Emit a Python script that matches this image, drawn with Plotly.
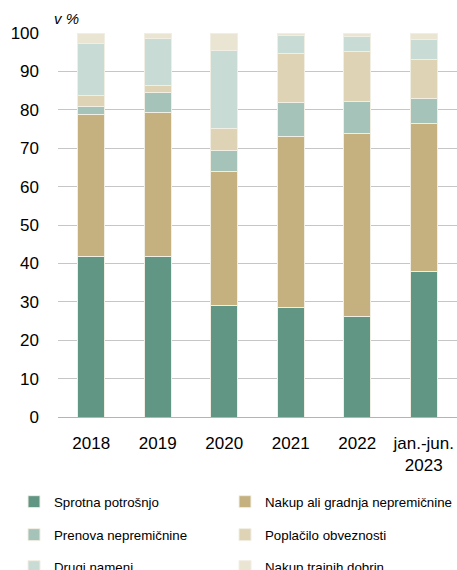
import plotly.graph_objects as go

categories = ["2018", "2019", "2020", "2021", "2022", "jan.-jun.<br>2023"]

sprotna = [41.9, 41.7, 29.1, 28.4, 26.1, 37.8]
nakup_gradnja = [37.0, 37.7, 34.8, 44.6, 47.6, 38.6]
prenova = [2.0, 5.1, 5.5, 9.0, 8.5, 6.6]
poplacilo = [2.9, 1.7, 5.8, 12.6, 13.0, 10.2]
drugi = [13.4, 12.3, 20.3, 4.8, 3.9, 5.2]
trajnih = [2.8, 1.5, 4.5, 0.6, 0.9, 1.6]

series_names = ["Sprotna potrošnjo", "Nakup ali gradnja nepremičnine",
                "Prenova nepremičnine", "Poplačilo obveznosti",
                "Drugi nameni", "Nakup trajnih dobrin"]
series_values = [sprotna, nakup_gradnja, prenova, poplacilo, drugi, trajnih]
colors = ["#619684", "#C5B180", "#A6C3B9", "#DED3B5", "#C8DCD5", "#EAE4D3"]

FONT = "Liberation Sans, Arial, sans-serif"
W, H = 457, 570

fig = go.Figure()
legend_layout = {}
for i, (name, vals, col) in enumerate(zip(series_names, series_values, colors)):
    lg = "legend" if i == 0 else f"legend{i + 1}"
    fig.add_trace(go.Bar(
        x=categories, y=vals, name=name, showlegend=True,
        marker=dict(color=col, line=dict(color="#F1EEE4", width=1)),
        legend=lg,
    ))
    row, colm = divmod(i, 2)
    x_px = 14 if colm == 0 else 225
    y_px = [502, 535, 567][row]
    legend_layout[lg] = dict(
        visible=True,
        orientation="h", xref="container", yref="container",
        x=x_px / W, y=1 - y_px / H, xanchor="left", yanchor="middle",
        font=dict(family=FONT, size=13.3, color="#000000"),
        bgcolor="rgba(0,0,0,0)", borderwidth=0, traceorder="normal",
        itemclick=False, itemdoubleclick=False)

fig.update_layout(
    width=W, height=H, showlegend=True,
    margin=dict(l=58, r=0, t=33, b=153, autoexpand=False),
    paper_bgcolor="white", plot_bgcolor="white",
    barmode="stack", bargap=0.594,
    font=dict(family=FONT, size=17, color="#000000"),
    xaxis=dict(showgrid=False, ticks="", ticklabelstandoff=14,
               tickfont=dict(family=FONT, size=17), showline=False),
    yaxis=dict(range=[0, 100], dtick=10, showgrid=True, gridcolor="#C6C6C6",
               gridwidth=1, zeroline=True, zerolinecolor="#B4B4B4", zerolinewidth=1,
               ticks="", ticklabelstandoff=18, tickfont=dict(family=FONT, size=17),
               showline=False),
    annotations=[dict(text="<i>v %</i>", xref="paper", yref="paper", x=0.0, y=1.0,
                      xanchor="left", yanchor="bottom", showarrow=False,
                      xshift=-6, yshift=4,
                      font=dict(family=FONT, size=15))],
    **legend_layout,
)

fig.write_html("out.html", config={"displayModeBar": False},
               post_script="document.body.style.margin='0';document.body.style.padding='0';")
